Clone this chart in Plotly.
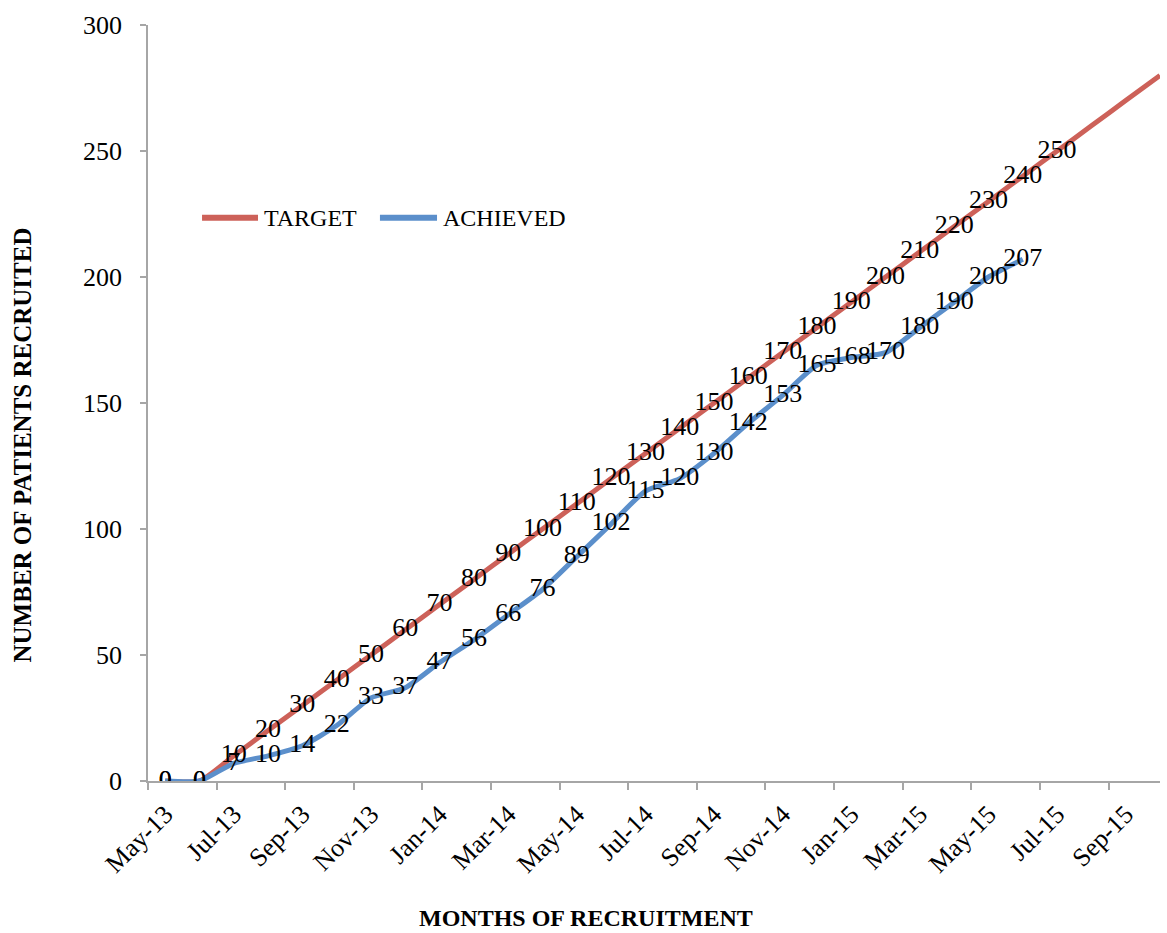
import plotly.graph_objects as go

# Recruitment months (May 2013 to Oct 2015)
months = ["May-13", "Jun-13", "Jul-13", "Aug-13", "Sep-13", "Oct-13", "Nov-13", "Dec-13",
          "Jan-14", "Feb-14", "Mar-14", "Apr-14", "May-14", "Jun-14", "Jul-14", "Aug-14",
          "Sep-14", "Oct-14", "Nov-14", "Dec-14", "Jan-15", "Feb-15", "Mar-15", "Apr-15",
          "May-15", "Jun-15", "Jul-15", "Aug-15", "Sep-15", "Oct-15"]

# Cumulative recruitment target per month
target = [0, 0, 10, 20, 30, 40, 50, 60, 70, 80, 90, 100, 110, 120, 130, 140, 150, 160,
          170, 180, 190, 200, 210, 220, 230, 240, 250, 260, 270, 280]
# Only these target points carry a value label
target_labelled = 27

# Cumulative patients actually recruited
achieved = [0, 0, 7, 10, 14, 22, 33, 37, 47, 56, 66, 76, 89, 102, 115, 120, 130, 142,
            153, 165, 168, 170, 180, 190, 200, 207]

RED = "#CD6159"
BLUE = "#5B8FCB"
AXIS = "#A6A6A6"
FONT = "Liberation Serif"
SIZE = 26

x_t = list(range(len(target)))
x_a = list(range(len(achieved)))

fig = go.Figure()
fig.add_trace(go.Scatter(x=x_t, y=target, mode="lines", name="TARGET", showlegend=False,
                         line=dict(color=RED, width=5, shape="spline", smoothing=0.6)))
fig.add_trace(go.Scatter(x=x_a, y=achieved, mode="lines", name="ACHIEVED", showlegend=False,
                         line=dict(color=BLUE, width=5, shape="spline", smoothing=0.6)))

# Value labels drawn above both lines
fig.add_trace(go.Scatter(x=x_t[:target_labelled], y=target[:target_labelled], mode="text",
                         text=[str(v) for v in target[:target_labelled]],
                         textposition="middle center", showlegend=False, hoverinfo="skip",
                         textfont=dict(family=FONT, size=SIZE, color="black")))
fig.add_trace(go.Scatter(x=x_a, y=achieved, mode="text",
                         text=[str(v) for v in achieved],
                         textposition="middle center", showlegend=False, hoverinfo="skip",
                         textfont=dict(family=FONT, size=SIZE, color="black")))

# Legend inside the plot area: long line swatch followed by the series name
legend_y = 0.745
legend_items = [("TARGET", RED, 0.0534, 0.1087), ("ACHIEVED", BLUE, 0.2292, 0.2856)]
shapes = []
annotations = []
for name, color, x0, x1 in legend_items:
    shapes.append(dict(type="line", xref="paper", yref="paper", x0=x0, x1=x1,
                       y0=legend_y, y1=legend_y, line=dict(color=color, width=6)))
    annotations.append(dict(text=name, xref="paper", yref="paper", x=x1 + 0.004, y=legend_y,
                            xanchor="left", yanchor="middle", showarrow=False,
                            font=dict(family=FONT, size=24, color="black")))

annotations += [
    dict(text="<b>MONTHS OF RECRUITMENT</b>", xref="paper", yref="paper",
         x=0.433, y=-0.181, xanchor="center", yanchor="middle", showarrow=False,
         font=dict(family=FONT, size=24, color="black")),
    dict(text="<b>NUMBER OF PATIENTS RECRUITED</b>", xref="paper", yref="paper",
         x=-0.1245, y=0.4438, xanchor="center", yanchor="middle", showarrow=False,
         textangle=-90, font=dict(family=FONT, size=25, color="black")),
]

fig.update_layout(
    width=1167, height=933,
    margin=dict(l=148, r=7, t=25, b=152),
    plot_bgcolor="white", paper_bgcolor="white",
    font=dict(family=FONT, size=SIZE, color="black"),
    showlegend=False,
    xaxis=dict(
        range=[-0.5, len(months) - 1],
        tickmode="array", tickvals=x_t[::2], ticktext=months[::2],
        tickangle=-45, ticks="", showgrid=False, zeroline=False,
        showline=True, linecolor=AXIS, linewidth=1.5,
        ticklabelstandoff=6,
        minor=dict(tickmode="array", tickvals=[v - 0.5 for v in x_t[::2]],
                   ticks="outside", ticklen=7, tickcolor=AXIS, tickwidth=1.5, showgrid=False),
        tickfont=dict(family=FONT, size=SIZE),
    ),
    yaxis=dict(
        range=[0, 300], tickmode="array", tickvals=[0, 50, 100, 150, 200, 250, 300],
        ticks="outside", ticklen=6, tickcolor=AXIS, tickwidth=1.5,
        showgrid=False, zeroline=False, showline=True, linecolor=AXIS, linewidth=1.5,
        ticklabelstandoff=13, tickfont=dict(family=FONT, size=SIZE),
    ),
    shapes=shapes,
    annotations=annotations,
)

fig.write_html("out.html")
